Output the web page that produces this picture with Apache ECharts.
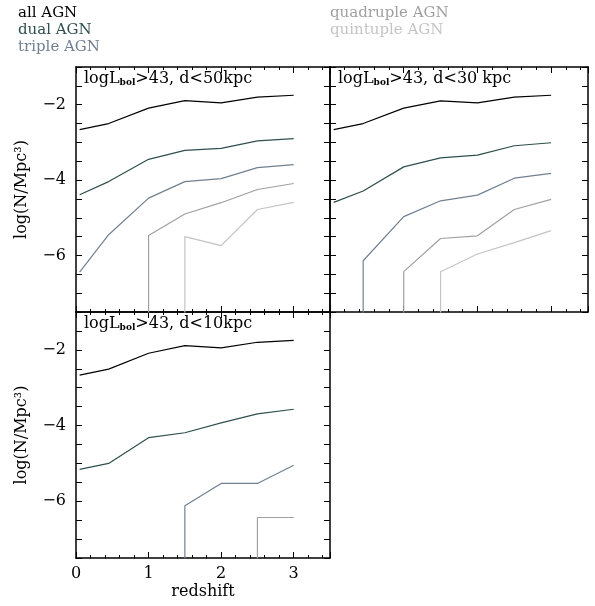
<!DOCTYPE html>
<html><head><meta charset="utf-8">
<script src="https://cdn.jsdelivr.net/npm/echarts@6/dist/echarts.min.js"></script>
<style>body{margin:0}#c{width:595px;height:606px}</style>
</head><body><div id="c"></div>
<script>
// redshift sample points
const zs = [0.05, 0.45, 1, 1.5, 2, 2.5, 3];
const BOT = -8; // below axis: vertical drop-lines

// panel 1: d<50kpc
const p1All = [-2.66, -2.5, -2.09, -1.89, -1.95, -1.8, -1.75];
const p1Dual = [-4.39, -4.04, -3.45, -3.21, -3.16, -2.96, -2.9];
const p1Triple = [-6.44, -5.45, -4.48, -4.04, -3.96, -3.67, -3.59];
const p1Quad = [[1, BOT], [1, -5.47], [1.5, -4.9], [2, -4.6], [2.5, -4.25], [3, -4.09]];
const p1Quint = [[1.5, BOT], [1.5, -5.5], [2, -5.74], [2.5, -4.78], [3, -4.59]];
// panel 2: d<30kpc
const p2All = [-2.66, -2.5, -2.09, -1.9, -1.95, -1.8, -1.75];
const p2Dual = [-4.59, -4.29, -3.65, -3.41, -3.34, -3.09, -3.01];
const p2Triple = [[0.45, BOT], [0.45, -6.14], [1, -4.97], [1.5, -4.55], [2, -4.4], [2.5, -3.95], [3, -3.82]];
const p2Quad = [[1, BOT], [1, -6.43], [1.5, -5.55], [2, -5.48], [2.5, -4.78], [3, -4.51]];
const p2Quint = [[1.5, BOT], [1.5, -6.43], [2, -5.96], [2.5, -5.66], [3, -5.34]];
// panel 3: d<10kpc
const p3All = [-2.67, -2.51, -2.09, -1.89, -1.95, -1.8, -1.75];
const p3Dual = [-5.16, -5.0, -4.32, -4.19, -3.93, -3.69, -3.57];
const p3Triple = [[1.5, BOT], [1.5, -6.12], [2, -5.53], [2.5, -5.53], [3, -5.05]];
const p3Quad = [[2.5, BOT], [2.5, -6.43], [3, -6.43]];

const colors = { all: '#000000', dual: '#2f4f4f', triple: '#708090', quad: '#a0a0a0', quint: '#c4c4c4' };
const font = 'DejaVu Serif';

const grids = [
  { left: 76, top: 67, width: 254, height: 245 },
  { left: 330, top: 67, width: 258, height: 245 },
  { left: 76, top: 312, width: 254, height: 246 }
];

const xAxes = [], yAxes = [], series = [];
grids.forEach((g, i) => {
  const showX = i === 2, showY = i !== 1;
  const base = {
    gridIndex: i, type: 'value', splitLine: { show: false },
    axisLine: { show: true, onZero: false, lineStyle: { color: '#000', width: 1.5 } },
    axisTick: { inside: true, length: 6, lineStyle: { color: '#000' } },
    minorTick: { show: true, splitNumber: 5, length: 3, lineStyle: { color: '#000' } }
  };
  xAxes.push(Object.assign({}, base, {
    min: 0, max: 3.5, interval: 1, position: 'bottom',
    axisLabel: { show: showX, color: '#000', fontFamily: font, fontSize: 16, formatter: v => v === 3.5 ? '' : v },
    name: showX ? 'redshift' : '', nameLocation: 'middle', nameGap: 26,
    nameTextStyle: { color: '#000', fontFamily: font, fontSize: 16 }
  }));
  xAxes.push(Object.assign({}, base, { min: 0, max: 3.5, interval: 1, position: 'top', axisLabel: { show: false } }));
  yAxes.push(Object.assign({}, base, {
    min: -7.5, max: -1, interval: 0.5, position: 'left',
    minorTick: { show: false },
    axisLabel: {
      show: showY, color: '#000', fontFamily: font, fontSize: 16, margin: 10,
      formatter: v => (v % 2 === 0 && v > -7) ? '−' + Math.abs(v) : ''
    },
    name: showY ? 'log(N/Mpc³)' : '', nameLocation: 'middle', nameGap: 46,
    nameTextStyle: { color: '#000', fontFamily: font, fontSize: 16 }
  }));
  yAxes.push(Object.assign({}, base, {
    min: -7.5, max: -1, interval: 0.5, position: 'right', minorTick: { show: false }, axisLabel: { show: false }
  }));
});

function add(panel, data, col) {
  const d = Array.isArray(data[0]) ? data : data.map((v, k) => [zs[k], v]);
  series.push({
    type: 'line', xAxisIndex: panel * 2, yAxisIndex: panel * 2, data: d, clip: true,
    showSymbol: false, silent: true, lineStyle: { color: col, width: 1.2 }
  });
}
add(0, p1All, colors.all); add(0, p1Dual, colors.dual); add(0, p1Triple, colors.triple);
add(0, p1Quad, colors.quad); add(0, p1Quint, colors.quint);
add(1, p2All, colors.all); add(1, p2Dual, colors.dual); add(1, p2Triple, colors.triple);
add(1, p2Quad, colors.quad); add(1, p2Quint, colors.quint);
add(2, p3All, colors.all); add(2, p3Dual, colors.dual); add(2, p3Triple, colors.triple);
add(2, p3Quad, colors.quad);

const legendItems = [
  ['all AGN', colors.all, 18, 6], ['dual AGN', colors.dual, 18, 23], ['triple AGN', colors.triple, 18, 40],
  ['quadruple AGN', colors.quad, 330, 6], ['quintuple AGN', colors.quint, 330, 23]
];
const graphic = legendItems.map(([t, c, x, y]) => ({
  type: 'text', left: x, top: y, style: { text: t, fill: c, font: '15px "DejaVu Serif"' }
}));
const titles = [[' d<50kpc', 84, 71], [' d<30 kpc', 338, 71], [' d<10kpc', 84, 316]];
titles.forEach(([t, x, y]) => graphic.push({
  type: 'text', left: x, top: y, z: 10,
  style: {
    text: '{a|logL}{s|bol}{a|>43,' + t + '}',
    rich: {
      a: { fontFamily: font, fontSize: 16, fill: '#000' },
      s: { fontFamily: font, fontSize: 9, fontWeight: 'bold', fill: '#000', padding: [8, 0, 0, 0] }
    }
  }
}));

const chart = echarts.init(document.getElementById('c'));
chart.setOption({ animation: false, grid: grids, xAxis: xAxes, yAxis: yAxes, series, graphic });
</script></body></html>
